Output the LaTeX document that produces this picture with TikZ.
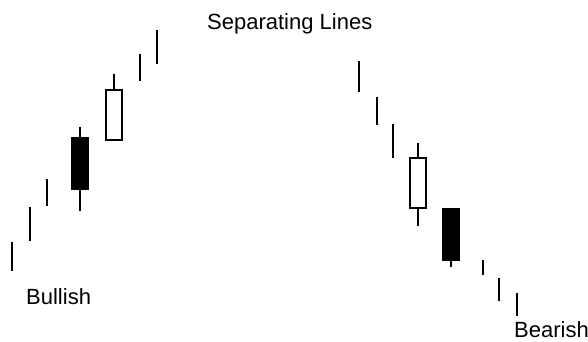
\documentclass[tikz,border=0pt]{standalone}
\usepackage{fontspec}
\setmainfont{Liberation Sans}
\usetikzlibrary{positioning}

\begin{document}
\begin{tikzpicture}[x=1pt, y=-1pt,
                tick/.style={line width=2pt},
                blackbody/.style={rectangle, draw, fill=black, line width=2pt, inner sep=0pt, minimum width=16pt, minimum height=51pt},
                whitebody/.style={rectangle, draw, fill=white, line width=2pt, inner sep=0pt, minimum width=16pt, minimum height=50pt},
                label/.style={inner sep=0pt, anchor=base west, font=\fontsize{22}{26}\selectfont},
            ]
            \useasboundingbox (0,0) rectangle (588,341);

            % Nodes
            \node[label]       (title)          at (207,29)     {Separating Lines};
            \node[label]       (bullish)        at (26,304)     {Bullish};
            \node[label]       (bearish)        at (514,337)    {Bearish};

            \node[blackbody]   (bull_black)     at (80,163.5)   {};
            \node[whitebody]   (bull_white)     at (114,115)    {};
            \node[whitebody]   (bear_white)     at (417.5,183)  {};
            \node[blackbody]   (bear_black)     at (451,234.5)  {};

            \coordinate (bull_black_top)    at (80,127);
            \coordinate (bull_black_bottom) at (80,211);
            \coordinate (bull_white_top)    at (114,74);
            \coordinate (bear_white_top)    at (417.5,143);
            \coordinate (bear_white_bottom) at (417.5,226);
            \coordinate (bear_black_bottom) at (451,267);

            %Lines
            \draw[tick] (bull_black.north) -- (bull_black_top);
            \draw[tick] (bull_black.south) -- (bull_black_bottom);
            \draw[tick] (bull_white.north) -- (bull_white_top);
            \draw[tick] (bear_white.north) -- (bear_white_top);
            \draw[tick] (bear_white.south) -- (bear_white_bottom);
            \draw[tick] (bear_black.south) -- (bear_black_bottom);

            \draw[tick] (12,242) -- (12,271);
            \draw[tick] (30,207) -- (30,241);
            \draw[tick] (47,179) -- (47,206);
            \draw[tick] (140,54) -- (140,81);
            \draw[tick] (157,30) -- (157,64);

            \draw[tick] (359,61) -- (359,92);
            \draw[tick] (377,97) -- (377,125);
            \draw[tick] (393,124) -- (393,158);
            \draw[tick] (483,260) -- (483,275);
            \draw[tick] (499,278) -- (499,301);
            \draw[tick] (517,293) -- (517,316);
        \end{tikzpicture}
\end{document}
